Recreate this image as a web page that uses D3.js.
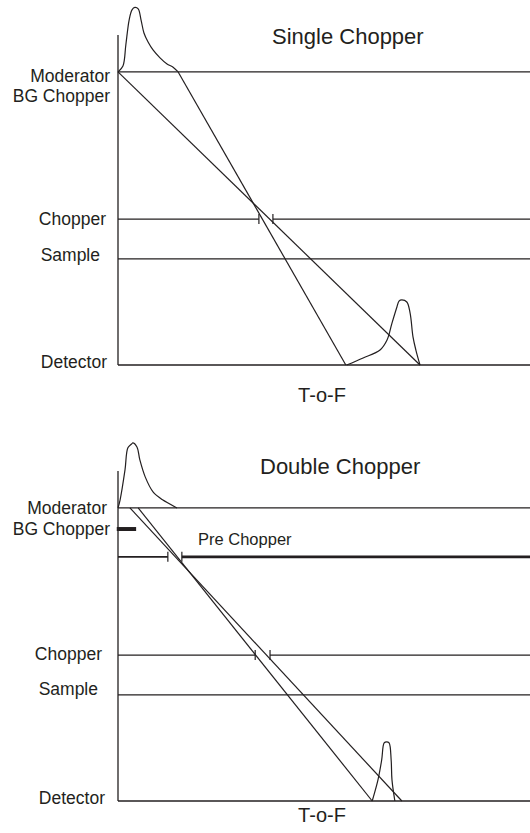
<!DOCTYPE html>
<html>
<head>
<meta charset="utf-8">
<script src="https://cdn.jsdelivr.net/npm/d3@7"></script>
<style>
  html, body { margin: 0; padding: 0; background: #fff; }
  svg { display: block; }
  text { font-family: "Liberation Sans", Arial, Helvetica, sans-serif; fill: #231f20; }
</style>
</head>
<body>
<svg id="chart" width="530" height="833"></svg>
<script>
// Flight-path stations (distance from moderator, 0 = moderator, 100 = detector)
const stationNames    = ["Moderator", "BG Chopper", "Pre Chopper", "Chopper", "Sample", "Detector"];
const stationDistance = [0, 7.2, 16.7, 50.2, 63.8, 100];

// Single chopper: neutron trajectories [departure time, arrival time at detector]
const singleRayStart = [0, 14.6];
const singleRayEnd   = [73.3, 55.3];
const singleChopperWindow = [34.2, 37.6];

// Single chopper: moderator pulse (time, height)
const singleSourceT = [0, 1.2, 1.9, 2.7, 3.4, 4.1, 4.9, 5.6, 6.3, 7.3, 8.5, 10.2, 11.9, 13.3, 14.6];
const singleSourceH = [0, 2.0, 9.2, 17.7, 21.2, 22.0, 21.5, 17.7, 13.3, 10.2, 7.5, 4.8, 2.7, 1.7, 0];
// Single chopper: pulse at the detector
const singleDetT = [55.5, 59.5, 63.6, 65.3, 66.5, 67.7, 68.2, 68.9, 70.1, 70.9, 71.6, 72.3, 73.3];
const singleDetH = [0, 2.4, 5.1, 8.5, 14.3, 19.8, 21.8, 22.2, 21.5, 17.7, 9.6, 5.1, 0];

// Double chopper: trajectories
const doubleRayStart = [2.9, 4.9];
const doubleRayEnd   = [68.9, 61.7];
const bgChopperSpan      = [-0.3, 4.4];
const preChopperWindow   = [12.1, 15.5];
const doubleChopperWindow = [33.3, 36.9];

// Double chopper: moderator pulse
const doubleSourceT = [0, 0.5, 1.7, 2.4, 3.3, 3.6, 4.6, 5.3, 6.6, 8.5, 10.9, 14.3];
const doubleSourceH = [0, 2.7, 13.0, 20.5, 21.8, 22.2, 20.8, 16.4, 10.6, 5.5, 2.7, 0];
// Double chopper: pulse at the detector
const doubleDetT = [61.7, 63.1, 64.0, 64.6, 65.2, 65.8, 66.3, 66.5, 67.2];
const doubleDetH = [0, 7.2, 14.0, 19.8, 20.2, 19.8, 14.0, 7.2, 0];

const svg = d3.select("#chart");
const W = 530;
const x = d3.scaleLinear().domain([0, 100]).range([118, 530]);
const st = name => stationDistance[stationNames.indexOf(name)];
const zip = (a, b) => a.map((v, i) => [v, b[i]]);

const INK = "#231f20";

function panel(cfg) {
  const g = svg.append("g");
  const y = d3.scaleLinear().domain([-12.6, 100]).range(cfg.yRange);

  // time axis (vertical line at t = 0)
  g.append("line")
    .attr("x1", x(0)).attr("x2", x(0))
    .attr("y1", y(-12.6)).attr("y2", y(100))
    .attr("stroke", INK).attr("stroke-width", 1.3);

  // station lines
  cfg.lines.forEach(L => {
    const yy = y(st(L.name));
    if (L.window) {
      g.append("line").attr("x1", x(0)).attr("x2", x(L.window[0]))
        .attr("y1", yy).attr("y2", yy)
        .attr("stroke", INK).attr("stroke-width", L.leftWidth || 1.3);
      g.append("line").attr("x1", x(L.window[1])).attr("x2", W)
        .attr("y1", yy).attr("y2", yy)
        .attr("stroke", INK).attr("stroke-width", L.rightWidth || 1.3);
      L.window.forEach(t => {
        g.append("line").attr("x1", x(t)).attr("x2", x(t))
          .attr("y1", yy - 5).attr("y2", yy + 5)
          .attr("stroke", INK).attr("stroke-width", 1.2);
      });
    } else {
      g.append("line").attr("x1", x(0)).attr("x2", W)
        .attr("y1", yy).attr("y2", yy)
        .attr("stroke", INK).attr("stroke-width", 1.3);
    }
  });

  // background chopper bar
  if (cfg.bgSpan) {
    const yy = y(st("BG Chopper"));
    g.append("line").attr("x1", x(cfg.bgSpan[0])).attr("x2", x(cfg.bgSpan[1]))
      .attr("y1", yy).attr("y2", yy)
      .attr("stroke", INK).attr("stroke-width", 4);
  }

  // neutron trajectories
  cfg.rayStart.forEach((t0, i) => {
    g.append("line")
      .attr("x1", x(t0)).attr("y1", y(st("Moderator")))
      .attr("x2", x(cfg.rayEnd[i])).attr("y2", y(st("Detector")))
      .attr("stroke", INK).attr("stroke-width", 1.2);
  });

  // pulses
  const pulse = (ts, hs, base) => d3.line()
    .x(d => x(d[0]))
    .y(d => y(base - d[1]))
    .curve(d3.curveCatmullRom.alpha(0.5))(zip(ts, hs));
  g.append("path").attr("d", pulse(cfg.srcT, cfg.srcH, st("Moderator")))
    .attr("fill", "none").attr("stroke", INK).attr("stroke-width", 1.2);
  g.append("path").attr("d", pulse(cfg.detT, cfg.detH, st("Detector")))
    .attr("fill", "none").attr("stroke", INK).attr("stroke-width", 1.2);

  // station labels
  cfg.labels.forEach(l => {
    g.append("text")
      .attr("x", l.end).attr("y", l.base)
      .attr("text-anchor", "end")
      .attr("font-size", 17.5)
      .text(l.name);
  });

  // title and axis caption
  g.append("text").attr("x", cfg.titleX).attr("y", cfg.titleY)
    .attr("font-size", 22).text(cfg.title);
  g.append("text").attr("x", 322).attr("y", cfg.tofY)
    .attr("text-anchor", "middle").attr("font-size", 20).text("T-o-F");

  if (cfg.preLabel) {
    g.append("text").attr("x", 198).attr("y", 545)
      .attr("font-size", 16.5).text("Pre Chopper");
  }
}

panel({
  yRange: [35, 365],
  title: "Single Chopper", titleX: 272, titleY: 44, tofY: 402,
  lines: [
    { name: "Moderator" },
    { name: "Chopper", window: singleChopperWindow },
    { name: "Sample" },
    { name: "Detector" }
  ],
  rayStart: singleRayStart, rayEnd: singleRayEnd,
  srcT: singleSourceT, srcH: singleSourceH,
  detT: singleDetT, detH: singleDetH,
  labels: [
    { name: "Moderator", end: 110, base: 82 },
    { name: "BG Chopper", end: 110, base: 102 },
    { name: "Chopper", end: 106, base: 225 },
    { name: "Sample", end: 100, base: 261 },
    { name: "Detector", end: 107, base: 368 }
  ]
});

panel({
  yRange: [471, 801],
  title: "Double Chopper", titleX: 260, titleY: 474, tofY: 822,
  lines: [
    { name: "Moderator" },
    { name: "Pre Chopper", window: preChopperWindow, leftWidth: 1.6, rightWidth: 2.8 },
    { name: "Chopper", window: doubleChopperWindow },
    { name: "Sample" },
    { name: "Detector" }
  ],
  bgSpan: bgChopperSpan,
  rayStart: doubleRayStart, rayEnd: doubleRayEnd,
  srcT: doubleSourceT, srcH: doubleSourceH,
  detT: doubleDetT, detH: doubleDetH,
  preLabel: true,
  labels: [
    { name: "Moderator", end: 107, base: 514 },
    { name: "BG Chopper", end: 110, base: 535 },
    { name: "Chopper", end: 102, base: 660 },
    { name: "Sample", end: 98, base: 695 },
    { name: "Detector", end: 105, base: 804 }
  ]
});
</script>
</body>
</html>
